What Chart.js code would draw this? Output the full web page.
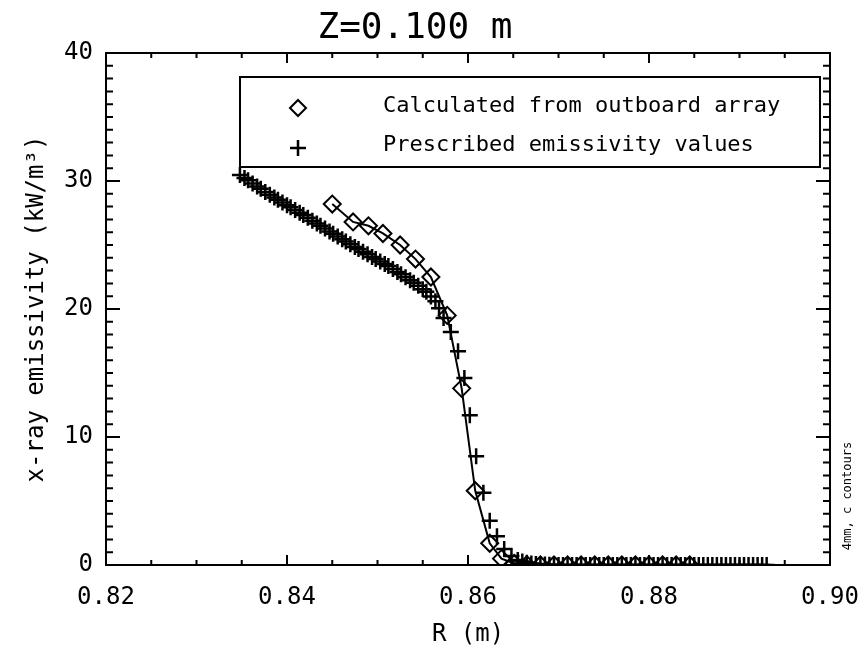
<!DOCTYPE html>
<html>
<head>
<meta charset="utf-8">
<title>Z=0.100 m</title>
<script src="https://cdn.jsdelivr.net/npm/chart.js@4/dist/chart.umd.min.js"></script>
<style>
  html, body { margin: 0; padding: 0; background: #fff; }
  canvas { display: block; }
</style>
</head>
<body>
<canvas id="emissivityChart" width="863" height="651"></canvas>
<script>
// Prescribed emissivity values (plus markers): R in m, emissivity in kW/m^3
const prescribedR = [
  0.8348, 0.8353, 0.8357, 0.8362, 0.8367, 0.8371, 0.8376, 0.8381, 0.8386, 0.8390,
  0.8395, 0.8400, 0.8404, 0.8409, 0.8414, 0.8418, 0.8423, 0.8428, 0.8433, 0.8437,
  0.8442, 0.8447, 0.8451, 0.8456, 0.8461, 0.8465, 0.8470, 0.8475, 0.8479, 0.8484,
  0.8489, 0.8494, 0.8498, 0.8503, 0.8508, 0.8512, 0.8517, 0.8522, 0.8526, 0.8531,
  0.8536, 0.8540, 0.8545, 0.8550, 0.8554, 0.8559, 0.8564, 0.8568, 0.8573, 0.8581,
  0.8589, 0.8596, 0.8602, 0.8609, 0.8617, 0.8624, 0.8632, 0.8640, 0.8648, 0.8655,
  0.8660, 0.8665, 0.8670, 0.8675, 0.8680, 0.8685, 0.8690, 0.8695, 0.8700, 0.8705,
  0.8710, 0.8715, 0.8720, 0.8725, 0.8730, 0.8735, 0.8740, 0.8745, 0.8750, 0.8755,
  0.8760, 0.8765, 0.8770, 0.8775, 0.8780, 0.8785, 0.8790, 0.8795, 0.8800, 0.8805,
  0.8810, 0.8815, 0.8820, 0.8825, 0.8830, 0.8835, 0.8840, 0.8845, 0.8850, 0.8855,
  0.8860, 0.8865, 0.8870, 0.8875, 0.8880, 0.8885, 0.8890, 0.8895, 0.8900, 0.8905,
  0.8910, 0.8915, 0.8920, 0.8925, 0.8930
];
const prescribedEm = [
  30.47, 30.24, 30.05, 29.81, 29.58, 29.39, 29.15, 28.92, 28.71, 28.54,
  28.33, 28.11, 27.94, 27.73, 27.51, 27.34, 27.12, 26.90, 26.68, 26.50,
  26.28, 26.05, 25.87, 25.66, 25.45, 25.28, 25.06, 24.85, 24.68, 24.47,
  24.27, 24.07, 23.91, 23.71, 23.51, 23.35, 23.13, 22.90, 22.72, 22.48,
  22.25, 22.06, 21.81, 21.55, 21.35, 20.98, 20.60, 20.05, 19.30, 18.20,
  16.70, 14.60, 11.70, 8.50, 5.65, 3.45, 2.25, 1.25, 0.70, 0.40,
  0.28, 0.18, 0.12, 0.08, 0.05, 0.03, 0.02, 0, 0, 0,
  0, 0, 0, 0, 0, 0, 0, 0, 0, 0,
  0, 0, 0, 0, 0, 0, 0, 0, 0, 0,
  0, 0, 0, 0, 0, 0, 0, 0, 0, 0,
  0, 0, 0, 0, 0, 0, 0, 0, 0, 0,
  0, 0, 0, 0, 0
];

// Calculated from outboard array (diamonds joined by a line)
const calculatedR = [
  0.8450, 0.8473, 0.8490, 0.8506, 0.8525, 0.8542, 0.8559, 0.8577, 0.8593, 0.8608,
  0.8624, 0.8637, 0.8651, 0.8665, 0.8680, 0.8695, 0.8710, 0.8725, 0.8740, 0.8755,
  0.8770, 0.8785, 0.8800, 0.8815, 0.8830, 0.8845
];
const calculatedEm = [
  28.2, 26.8, 26.5, 25.9, 25.0, 23.9, 22.5, 19.5, 13.8, 5.8,
  1.7, 0.5, 0.12, 0.03, 0, 0, 0, 0, 0, 0,
  0, 0, 0, 0, 0, 0
];

const xTickLabels = ['0.82', '0.84', '0.86', '0.88', '0.90'];
const yTickLabels = ['0', '10', '20', '30', '40'];
const seriesNames = ['Calculated from outboard array', 'Prescribed emissivity values'];

const FONT = '"DejaVu Sans Mono", "Liberation Mono", monospace';

// IDL style box with inward major/minor ticks on all four sides
const frameTicks = {
  id: 'frameTicks',
  afterDatasetsDraw(chart) {
    const { ctx, chartArea: a, scales: { x, y } } = chart;
    ctx.save();
    ctx.strokeStyle = '#000';
    ctx.lineWidth = 2;
    ctx.strokeRect(a.left, a.top, a.right - a.left, a.bottom - a.top);
    ctx.beginPath();
    for (let i = 0; i <= 16; i++) {
      const px = x.getPixelForValue(0.82 + i * 0.005);
      const len = i % 4 === 0 ? 10 : 5;
      ctx.moveTo(px, a.bottom); ctx.lineTo(px, a.bottom - len);
      ctx.moveTo(px, a.top); ctx.lineTo(px, a.top + len);
    }
    for (let v = 0; v <= 40; v++) {
      const py = y.getPixelForValue(v);
      const len = v % 10 === 0 ? 14 : 7;
      ctx.moveTo(a.left, py); ctx.lineTo(a.left + len, py);
      ctx.moveTo(a.right, py); ctx.lineTo(a.right - len, py);
    }
    ctx.stroke();
    ctx.restore();
  }
};

// Boxed legend inside the plot, plus the small note on the right
const boxLegend = {
  id: 'boxLegend',
  afterDraw(chart) {
    const { ctx, chartArea: a } = chart;
    const left = a.left + 134, top = a.top + 24, right = a.right - 10, bottom = a.top + 114;
    ctx.save();
    ctx.strokeStyle = '#000';
    ctx.fillStyle = '#000';
    ctx.lineWidth = 2;
    ctx.strokeRect(left, top, right - left, bottom - top);

    const sx = left + 58;
    const r = 8;
    // diamond
    let sy = top + 31;
    ctx.beginPath();
    ctx.moveTo(sx - r, sy); ctx.lineTo(sx, sy - r); ctx.lineTo(sx + r, sy); ctx.lineTo(sx, sy + r);
    ctx.closePath();
    ctx.stroke();
    // plus
    sy = top + 71;
    ctx.lineWidth = 2.5;
    ctx.beginPath();
    ctx.moveTo(sx - r, sy); ctx.lineTo(sx + r, sy);
    ctx.moveTo(sx, sy - r); ctx.lineTo(sx, sy + r);
    ctx.stroke();

    ctx.font = '22px ' + FONT;
    ctx.textBaseline = 'alphabetic';
    ctx.textAlign = 'left';
    ctx.fillText(seriesNames[0], left + 143, top + 35);
    ctx.fillText(seriesNames[1], left + 143, top + 74);

    // rotated note at the right edge
    ctx.translate(848, 496);
    ctx.rotate(-Math.PI / 2);
    ctx.font = '12px ' + FONT;
    ctx.textAlign = 'center';
    ctx.textBaseline = 'middle';
    ctx.fillText('4mm, c contours', 0, 0);
    ctx.restore();
  }
};

const ctx = document.getElementById('emissivityChart').getContext('2d');
new Chart(ctx, {
  type: 'scatter',
  data: {
    datasets: [
      {
        label: seriesNames[0],
        data: calculatedR.map((r, i) => ({ x: r, y: calculatedEm[i] })),
        showLine: true,
        tension: 0,
        borderColor: '#000',
        borderWidth: 2,
        pointStyle: 'rectRot',
        pointRadius: 8.5,
        pointBorderWidth: 2,
        pointBorderColor: '#000',
        pointBackgroundColor: 'rgba(0,0,0,0)',
        clip: 0
      },
      {
        label: seriesNames[1],
        data: prescribedR.map((r, i) => ({ x: r, y: prescribedEm[i] })),
        showLine: false,
        pointStyle: 'cross',
        pointRadius: 8,
        pointBorderWidth: 2.5,
        pointBorderColor: '#000',
        pointBackgroundColor: '#000',
        clip: 0
      }
    ]
  },
  options: {
    responsive: false,
    devicePixelRatio: 1,
    animation: false,
    layout: { padding: { left: 0, right: 33, top: 0, bottom: 0 } },
    plugins: {
      legend: { display: false },
      tooltip: { enabled: false },
      title: {
        display: true,
        text: 'Z=0.100 m',
        color: '#000',
        font: { family: FONT, size: 36, weight: 'normal', lineHeight: 1 },
        padding: { top: 11, bottom: 6 }
      }
    },
    scales: {
      x: {
        type: 'linear',
        min: 0.82,
        max: 0.90,
        afterFit(scale) {
          scale.height = 86;
          scale.paddingLeft = 0;
          scale.paddingRight = 0;
        },
        grid: { display: false, drawTicks: false },
        border: { display: false },
        ticks: {
          stepSize: 0.02,
          padding: 18,
          color: '#000',
          font: { family: FONT, size: 24 },
          maxRotation: 0,
          callback: (v) => xTickLabels.find(t => Math.abs(parseFloat(t) - v) < 1e-6) || ''
        },
        title: {
          display: true,
          text: 'R (m)',
          color: '#000',
          font: { family: FONT, size: 24 },
          padding: { top: 0, bottom: 2 }
        }
      },
      y: {
        type: 'linear',
        min: 0,
        max: 40,
        afterFit(scale) {
          scale.width = 106;
          scale.paddingTop = 0;
          scale.paddingBottom = 0;
        },
        grid: { display: false, drawTicks: false },
        border: { display: false },
        ticks: {
          stepSize: 10,
          padding: 13,
          color: '#000',
          font: { family: FONT, size: 24 },
          callback: (v) => yTickLabels.find(t => parseFloat(t) === v) || ''
        },
        title: {
          display: true,
          text: 'x-ray emissivity (kW/m³)',
          color: '#000',
          font: { family: FONT, size: 24 },
          padding: { top: 22, bottom: 0 }
        }
      }
    }
  },
  plugins: [frameTicks, boxLegend]
});
</script>
</body>
</html>
